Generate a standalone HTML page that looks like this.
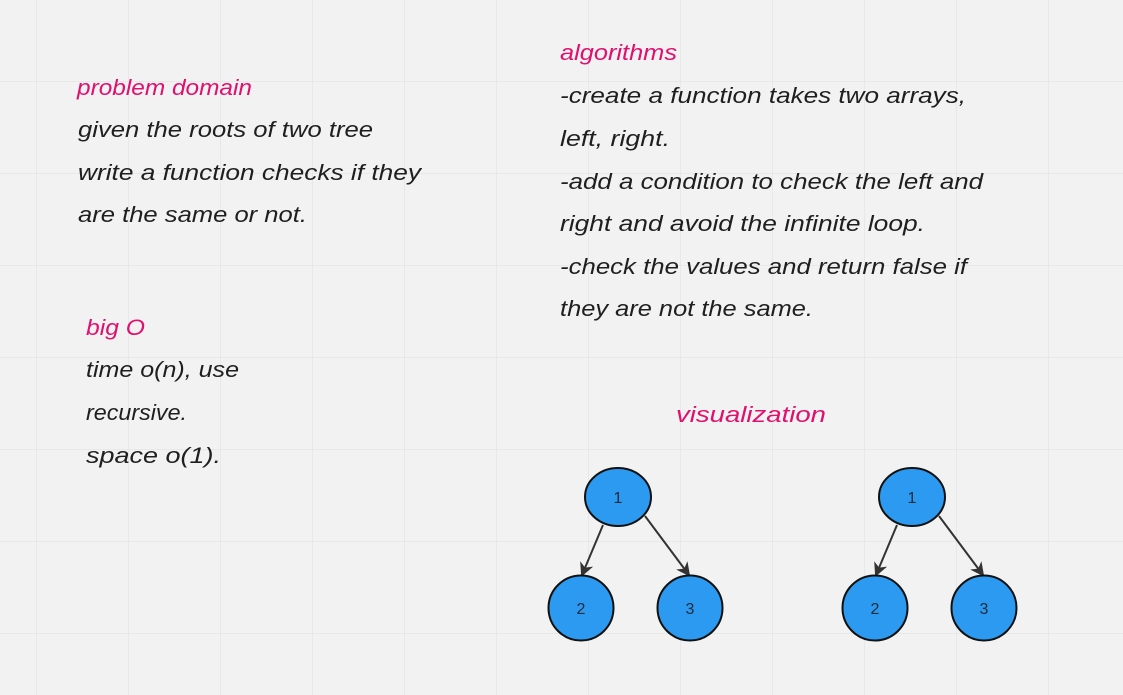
<!DOCTYPE html>
<html><head><meta charset="utf-8"><style>
html,body{margin:0;padding:0;background:#f2f2f2;}
svg{display:block;}
.t{font-family:"Liberation Sans",sans-serif;font-style:italic;font-size:22px;fill:#1f1f1f;}
.h{font-family:"Liberation Sans",sans-serif;font-style:italic;font-size:22px;fill:#e0106e;}
.n{font-family:"Liberation Sans",sans-serif;font-size:16px;fill:#1f2a3a;text-anchor:middle;}
</style></head><body>
<svg width="1123" height="695" viewBox="0 0 1123 695" xmlns="http://www.w3.org/2000/svg">
<defs>
<pattern id="g" x="36" y="81" width="92" height="92" patternUnits="userSpaceOnUse">
<path d="M0 0V92M0 0H92" stroke="#e4e4e4" stroke-width="1.5" fill="none"/>
</pattern>
<marker id="a" markerWidth="14" markerHeight="14" refX="12" refY="7" orient="auto" markerUnits="userSpaceOnUse">
<path d="M0 0L14 7L0 14L4 7Z" fill="#333"/>
</marker>
</defs>
<rect x="-1" y="-1" width="1125" height="697" fill="url(#g)"/>

<text class="h" x="77" y="95" textLength="175" lengthAdjust="spacingAndGlyphs">problem domain</text>
<text class="t" x="78" y="137" textLength="295" lengthAdjust="spacingAndGlyphs">given the roots of two tree</text>
<text class="t" x="78" y="180" textLength="343" lengthAdjust="spacingAndGlyphs">write a function checks if they</text>
<text class="t" x="78" y="222" textLength="229" lengthAdjust="spacingAndGlyphs">are the same or not.</text>

<text class="h" x="560" y="60" textLength="117" lengthAdjust="spacingAndGlyphs">algorithms</text>
<text class="t" x="560" y="103" textLength="406" lengthAdjust="spacingAndGlyphs">-create a function takes two arrays,</text>
<text class="t" x="560" y="146" textLength="110" lengthAdjust="spacingAndGlyphs">left, right.</text>
<text class="t" x="560" y="189" textLength="423" lengthAdjust="spacingAndGlyphs">-add a condition to check the left and</text>
<text class="t" x="560" y="231" textLength="365" lengthAdjust="spacingAndGlyphs">right  and avoid the infinite loop.</text>
<text class="t" x="560" y="274" textLength="407" lengthAdjust="spacingAndGlyphs">-check the values and return false if</text>
<text class="t" x="560" y="316" textLength="253" lengthAdjust="spacingAndGlyphs">they are not the same.</text>

<text class="h" x="86" y="335" textLength="59" lengthAdjust="spacingAndGlyphs">big O</text>
<text class="t" x="86" y="377" textLength="153" lengthAdjust="spacingAndGlyphs">time o(n), use</text>
<text class="t" x="86" y="420" textLength="101" lengthAdjust="spacingAndGlyphs">recursive.</text>
<text class="t" x="86" y="463" textLength="135" lengthAdjust="spacingAndGlyphs">space o(1).</text>

<text class="h" x="676" y="422" textLength="150" lengthAdjust="spacingAndGlyphs">visualization</text>

<g stroke="#333" stroke-width="2" marker-end="url(#a)">
<line x1="603" y1="525" x2="582" y2="575"/>
<line x1="645" y1="516" x2="689" y2="575"/>
<line x1="897" y1="525" x2="876" y2="575"/>
<line x1="939" y1="516" x2="983" y2="575"/>
</g>
<g fill="#2b9af0" stroke="#111" stroke-width="2">
<ellipse cx="618" cy="497" rx="33" ry="29"/>
<circle cx="581" cy="608" r="32.5"/>
<circle cx="690" cy="608" r="32.5"/>
<ellipse cx="912" cy="497" rx="33" ry="29"/>
<circle cx="875" cy="608" r="32.5"/>
<circle cx="984" cy="608" r="32.5"/>
</g>
<text class="n" x="618" y="503">1</text>
<text class="n" x="581" y="614">2</text>
<text class="n" x="690" y="614">3</text>
<text class="n" x="912" y="503">1</text>
<text class="n" x="875" y="614">2</text>
<text class="n" x="984" y="614">3</text>
</svg>
</body></html>
